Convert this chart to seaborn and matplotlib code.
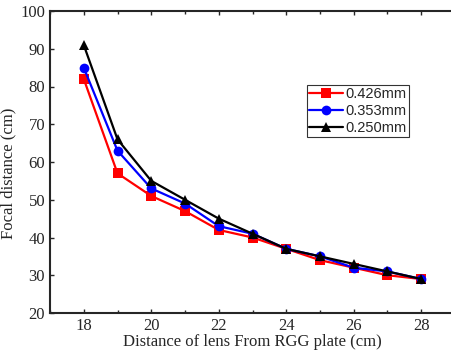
import pandas as pd
import numpy as np
import seaborn as sns
import matplotlib.pyplot as plt
from matplotlib.ticker import MultipleLocator

# values
distance = [18, 19, 20, 21, 22, 23, 24, 25, 26, 27, 28]
focal_0426 = [82, 57, 51, 47, 42, 40, 37, 34, 32, 30, 29]
focal_0353 = [85, 63, 53, 49, 43, 41, 37, 35, 32, 31, 29]
focal_0250 = [91, 66, 55, 50, 45, 41, 37, 35, 33, 31, 29]
labels = ["0.426mm", "0.353mm", "0.250mm"]

df = pd.DataFrame({
    "distance": distance * 3,
    "focal": focal_0426 + focal_0353 + focal_0250,
    "series": np.repeat(labels, len(distance)),
})

sns.set_style("ticks")
plt.rcParams['font.family'] = ['Liberation Serif', 'DejaVu Serif']

fig = plt.figure(figsize=(4.51, 3.51), dpi=100)
ax = fig.add_axes([50 / 451, 1 - 313 / 351, 405 / 451, 302 / 351])

palette = {"0.426mm": "#ff0000", "0.353mm": "#0000ff", "0.250mm": "#000000"}
markers = {"0.426mm": "s", "0.353mm": "o", "0.250mm": "^"}
sns.lineplot(data=df, x="distance", y="focal", hue="series", style="series",
             palette=palette, markers=markers, dashes=False, linewidth=1.6,
             markersize=7, markeredgewidth=0, ax=ax)

ax.set_xlim(17, 29)
ax.set_ylim(20, 100)
ax.xaxis.set_major_locator(MultipleLocator(2))
ax.xaxis.set_minor_locator(MultipleLocator(1))
ax.yaxis.set_major_locator(MultipleLocator(10))
ax.tick_params(which='both', direction='in', top=True, right=False,
               labelsize=12, width=1)
ax.tick_params(which='major', length=3)
ax.tick_params(which='minor', length=2)
for s in ax.spines.values():
    s.set_linewidth(1.5)
    s.set_visible(True)

ax.set_xlabel("Distance of lens From RGG plate (cm)", fontsize=12, labelpad=0)
ax.set_ylabel("Focal distance (cm)", fontsize=12)
ax.yaxis.set_label_coords(-0.083, 0.464)

leg = ax.legend(loc="upper left", bbox_to_anchor=(257 / 405, 1 - 74 / 302),
                frameon=True, fancybox=False, edgecolor="black",
                prop={"family": "Liberation Sans", "size": 10.5},
                borderpad=0.15, labelspacing=0.2, handlelength=2.3,
                handletextpad=0.2, borderaxespad=0)
leg.get_frame().set_linewidth(0.8)

plt.savefig("out.png", dpi=100)
plt.close()
